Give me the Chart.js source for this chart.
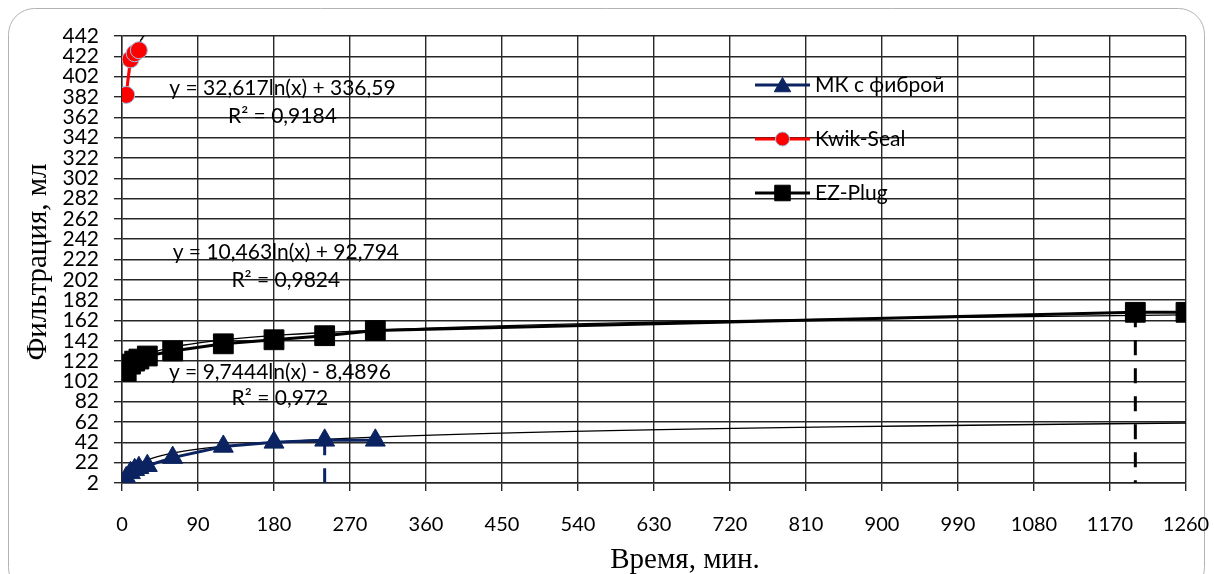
<!DOCTYPE html>
<html>
<head>
<meta charset="utf-8">
<script src="https://cdn.jsdelivr.net/npm/chart.js@4.4.0/dist/chart.umd.min.js"></script>
<style>
  html, body { margin: 0; padding: 0; background: #fff; }
  #wrap { width: 1214px; height: 574px; position: relative; }
</style>
</head>
<body>
<div id="wrap"><canvas id="myChart" width="1214" height="574"></canvas></div>
<script>
// время, мин / фильтрация, мл
var mkTime = [5, 10, 15, 20, 30, 60, 120, 180, 240, 300];
var mkValue = [7, 12, 15, 17, 19, 27, 38, 42, 44, 44];

var kwikTime = [5, 10, 15, 20];
var kwikValue = [384, 419, 425, 428];

var ezTime = [5, 10, 15, 20, 30, 60, 120, 180, 240, 300, 1200, 1260];
var ezValue = [112, 119, 122, 124, 127, 132, 139, 143, 147, 152, 170, 170];

var seriesNames = ["МК с фиброй", "Kwik-Seal", "EZ-Plug"];

// log trendlines as printed on the chart: y = a*ln(x) + b, and the x range they cover
var mkTrend = [9.7444, -8.4896, 3, 1260];
var kwikTrend = [32.617, 336.59, 5, 30];
var ezTrend = [10.463, 92.794, 5, 1260];

var trendText = [
  ["y = 32,617ln(x) + 336,59", "R² = 0,9184"],
  ["y = 10,463ln(x) + 92,794", "R² = 0,9824"],
  ["y = 9,7444ln(x) - 8,4896", "R² = 0,972"]
];
// where the equations sit (data coords: x, y of first line, y of second line)
var trendTextAt = [[190, 391, 363], [194, 229, 202], [187, 111, 85]];

// vertical dashed drop lines
var dropX = [240, 1200];
var dropTop = [44, 170];

var xTitle = "Время, мин.";
var yTitle = "Фильтрация, мл";

var xTicksMax = 1260;
var yMin = 2, yMax = 442;

function pts(xs, ys) {
  var out = [];
  for (var i = 0; i < xs.length; i++) out.push({x: xs[i], y: ys[i]});
  return out;
}

function trendPoints(t) {
  var out = [];
  var n = 80;
  for (var i = 0; i <= n; i++) {
    var x = t[2] * Math.pow(t[3] / t[2], i / n);
    out.push({x: x, y: t[0] * Math.log(x) + t[1]});
  }
  return out;
}

var navy = "#0b2461";
var colors = [navy, "#ff0000", "#000000"];
var styles = ["triangle", "circle", "rect"];

var tickFont = {family: "Lato", size: 20};

var frame = {
  id: "frame",
  beforeDraw: function (chart) {
    var ctx = chart.ctx;
    ctx.save();
    ctx.strokeStyle = "#b3b3b3";
    ctx.lineWidth = 1;
    ctx.beginPath();
    ctx.roundRect(8.5, 8.5, 1196, 585, 26);
    ctx.stroke();
    ctx.restore();
  }
};

var labels = {
  id: "labels",
  afterDraw: function (chart) {
    var ctx = chart.ctx;
    var xs = chart.scales.x, ys = chart.scales.y;
    ctx.save();
    ctx.fillStyle = "#000";
    ctx.font = "21px Lato";
    ctx.textAlign = "center";
    ctx.textBaseline = "middle";
    for (var i = 0; i < trendText.length; i++) {
      var p = trendTextAt[i];
      ctx.fillText(trendText[i][0], xs.getPixelForValue(p[0]), ys.getPixelForValue(p[1]));
      ctx.fillText(trendText[i][1], xs.getPixelForValue(p[0]), ys.getPixelForValue(p[2]));
    }

    // axis titles
    ctx.font = "29px 'Liberation Serif'";
    ctx.fillText(xTitle, 685, 560);
    ctx.save();
    ctx.translate(38, 262);
    ctx.rotate(-Math.PI / 2);
    ctx.fillText(yTitle, 0, 0);
    ctx.restore();

    // legend
    var lx = 755, ly = 85, step = 54;
    ctx.textAlign = "left";
    ctx.font = "21px Lato";
    for (var k = 0; k < seriesNames.length; k++) {
      var y = ly + k * step;
      ctx.strokeStyle = colors[k];
      ctx.lineWidth = 3;
      ctx.beginPath();
      ctx.moveTo(lx, y);
      ctx.lineTo(lx + 55, y);
      ctx.stroke();
      ctx.fillStyle = colors[k];
      ctx.strokeStyle = k == 1 ? "#9dc3e6" : colors[k];
      ctx.lineWidth = 1;
      var r = k == 0 ? 9.5 : (k == 1 ? 7 : 11);
      Chart.helpers.drawPoint(ctx, {pointStyle: styles[k], radius: r, rotation: 0, borderWidth: 1}, lx + 27.5, y + (k == 0 ? 2 : 0));
      ctx.fillStyle = "#000";
      ctx.fillText(seriesNames[k], lx + 60, y);
    }
    ctx.restore();
  }
};

var datasets = [
  {
    label: seriesNames[0], data: pts(mkTime, mkValue),
    borderColor: navy, backgroundColor: navy, borderWidth: 3,
    pointStyle: "triangle", pointRadius: 11.5, pointBorderWidth: 1
  },
  {
    label: seriesNames[1], data: pts(kwikTime, kwikValue),
    borderColor: "#ff0000", backgroundColor: "#ff0000", borderWidth: 3,
    pointStyle: "circle", pointRadius: 8.5, pointBorderColor: "#9dc3e6", pointBorderWidth: 1
  },
  {
    label: seriesNames[2], data: pts(ezTime, ezValue),
    borderColor: "#000", backgroundColor: "#000", borderWidth: 3,
    pointStyle: "rect", pointRadius: 14, pointBorderWidth: 1
  },
  {label: "t1", data: trendPoints(mkTrend), borderColor: "#000", borderWidth: 1.3, pointRadius: 0, tension: 0},
  {label: "t2", data: trendPoints(kwikTrend), borderColor: "#000", borderWidth: 1.3, pointRadius: 0, tension: 0},
  {label: "t3", data: trendPoints(ezTrend), borderColor: "#000", borderWidth: 1.3, pointRadius: 0, tension: 0}
];

for (var d = 0; d < dropX.length; d++) {
  datasets.push({
    label: "drop" + d,
    data: [{x: dropX[d], y: dropTop[d]}, {x: dropX[d], y: yMin}],
    borderColor: d == 0 ? navy : "#000", borderWidth: 3, borderDash: [15, 13],
    pointRadius: 0
  });
}

new Chart("myChart", {
  type: "scatter",
  data: {datasets: datasets},
  options: {
    responsive: false,
    animation: false,
    showLine: true,
    layout: {padding: {left: 0, top: 36, right: 28, bottom: 0}},
    plugins: {legend: {display: false}, tooltip: {enabled: false}},
    scales: {
      x: {
        type: "linear", min: 0, max: xTicksMax,
        ticks: {stepSize: 90, autoSkip: false, maxRotation: 0, color: "#000", font: tickFont, padding: 22,
                callback: function (v) { return String(v); }},
        grid: {color: "#262626", lineWidth: 1.4, tickLength: 8},
        border: {color: "#262626", width: 1.4},
        afterFit: function (s) { s.height = 91; s.paddingRight = 0; s.paddingLeft = 0; }
      },
      y: {
        min: yMin, max: yMax,
        ticks: {stepSize: 20, autoSkip: false, color: "#000", font: {family: "Lato", size: 21}, padding: 15,
                callback: function (v) { return String(v); }},
        grid: {color: "#262626", lineWidth: 1.4, tickLength: 8},
        border: {color: "#262626", width: 1.4},
        afterFit: function (s) { s.width = 122; }
      }
    }
  },
  plugins: [frame, labels]
});
</script>
</body>
</html>
